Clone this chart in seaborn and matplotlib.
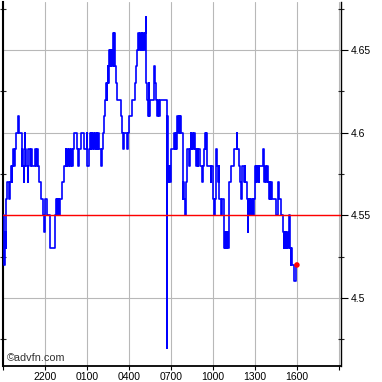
import numpy as np
import pandas as pd
import matplotlib
matplotlib.use("Agg")
import matplotlib.pyplot as plt
import seaborn as sns
from matplotlib.ticker import FixedLocator

# minutes since 19:00 (previous evening) at which the price changed
minutes = [
    0, 3, 5, 9, 12, 14, 19, 26, 29, 36, 38, 40, 42, 47, 50, 56, 64, 68, 80, 83,
    86, 89, 91, 94, 96, 100, 107, 109, 115, 118, 126, 136, 142, 144, 148, 156, 163, 171, 175, 178,
    188, 200, 221, 224, 227, 230, 233, 236, 239, 242, 246, 253, 262, 268, 272, 276, 279, 283, 286, 290,
    294, 298, 306, 316, 322, 325, 334, 348, 358, 362, 367,
    372, 376, 379, 383, 387, 390, 394, 398, 402, 405, 409, 412, 422, 425, 429, 433, 437, 441, 444, 446,
    449, 451, 453, 456, 458, 460, 462, 464, 468, 471, 474, 476, 478, 481, 486, 490, 504, 510, 514, 518,
    531, 536, 540, 552, 568, 572, 575, 578, 583, 586, 590, 594, 598, 602, 606, 610, 613, 615, 618, 621,
    624, 627, 630, 649, 652, 656, 662, 666, 669, 672, 701,
    703, 706, 710, 712, 717, 720, 734, 737, 740, 743, 748, 751, 754, 757, 760, 764, 770, 773, 775, 780,
    783, 788, 798, 801, 804, 808, 811, 815, 818, 821, 826, 830, 834, 838, 843, 854, 857, 860, 866, 869,
    872, 876, 890, 893, 902, 905, 910, 913, 918, 922, 926, 928, 934, 940, 947, 950, 953, 956, 959, 962,
    965, 968, 971,
    976, 990, 1003, 1005, 1013, 1017, 1021, 1024, 1032, 1036, 1039, 1046, 1050, 1052, 1055, 1058, 1061, 1064, 1067, 1070,
    1073, 1076, 1080, 1083, 1086, 1089, 1092, 1096, 1099, 1113, 1118, 1121, 1124, 1127, 1130, 1136, 1140, 1143, 1146, 1150,
    1153, 1170, 1179, 1184, 1190, 1200, 1203, 1206, 1209, 1212, 1215, 1218, 1221, 1225, 1229, 1233, 1236, 1240, 1248, 1257,
    1260,
]
prices = [
    4.55, 4.53, 4.52, 4.54, 4.53, 4.56, 4.57, 4.56, 4.57, 4.58, 4.57, 4.58, 4.59, 4.58, 4.59, 4.60, 4.61, 4.60, 4.58, 4.59,
    4.58, 4.57, 4.58, 4.60, 4.59, 4.58, 4.57, 4.59, 4.58, 4.59, 4.58, 4.59, 4.58, 4.59, 4.58, 4.57, 4.56, 4.55, 4.54, 4.56,
    4.55, 4.53, 4.54, 4.55, 4.56, 4.55, 4.56, 4.55, 4.56, 4.55, 4.56, 4.57, 4.58, 4.59, 4.58, 4.59, 4.58, 4.59, 4.58, 4.59,
    4.58, 4.59, 4.60, 4.59, 4.58, 4.59, 4.60, 4.59, 4.60, 4.58, 4.59,
    4.60, 4.59, 4.60, 4.59, 4.60, 4.59, 4.60, 4.59, 4.60, 4.59, 4.60, 4.59, 4.58, 4.59, 4.60, 4.61, 4.62, 4.63, 4.62, 4.63,
    4.64, 4.63, 4.64, 4.65, 4.64, 4.65, 4.64, 4.65, 4.64, 4.66, 4.64, 4.66, 4.65, 4.64, 4.63, 4.62, 4.61, 4.60, 4.59, 4.60,
    4.59, 4.60, 4.61, 4.62, 4.63, 4.64, 4.65, 4.66, 4.65, 4.66, 4.65, 4.66, 4.65, 4.66, 4.65, 4.66, 4.67, 4.63, 4.62, 4.61,
    4.63, 4.61, 4.62, 4.64, 4.63, 4.62, 4.61, 4.62, 4.61, 4.62, 4.47,
    4.61, 4.58, 4.57, 4.58, 4.57, 4.59, 4.60, 4.59, 4.60, 4.59, 4.61, 4.60, 4.61, 4.60, 4.61, 4.60, 4.56, 4.57, 4.56, 4.55,
    4.57, 4.59, 4.58, 4.59, 4.60, 4.59, 4.60, 4.59, 4.60, 4.59, 4.58, 4.59, 4.58, 4.59, 4.58, 4.57, 4.58, 4.59, 4.60, 4.59,
    4.60, 4.58, 4.57, 4.58, 4.56, 4.55, 4.56, 4.59, 4.58, 4.57, 4.58, 4.56, 4.55, 4.56, 4.53, 4.54, 4.53, 4.54, 4.53, 4.54,
    4.53, 4.55, 4.57,
    4.58, 4.59, 4.60, 4.59, 4.58, 4.57, 4.56, 4.58, 4.57, 4.58, 4.57, 4.56, 4.54, 4.56, 4.55, 4.56, 4.55, 4.56, 4.55, 4.56,
    4.55, 4.56, 4.58, 4.57, 4.58, 4.57, 4.58, 4.57, 4.58, 4.59, 4.58, 4.57, 4.58, 4.57, 4.58, 4.57, 4.56, 4.57, 4.56, 4.57,
    4.56, 4.55, 4.57, 4.56, 4.55, 4.54, 4.53, 4.54, 4.53, 4.54, 4.53, 4.54, 4.53, 4.55, 4.53, 4.52, 4.53, 4.52, 4.51, 4.52,
    4.52,
]
assert len(minutes) == len(prices)

ref_price = 4.55
last_minute = 1260
last_price = 4.52

xtick_hours = [0, 3, 6, 9, 12, 15, 18, 21, 24]
xtick_labels = ["", "2200", "0100", "0400", "0700", "1000", "1300", "1600", ""]
ytick_values = [4.5, 4.55, 4.6, 4.65]
ytick_labels = ["4.5", "4.55", "4.6", "4.65"]
yminor_values = [4.475, 4.525, 4.575, 4.625, 4.675]
watermark = "\u00a9advfn.com"

sns.set_style("white")
plt.rcParams["font.family"] = ["Liberation Sans", "DejaVu Sans"]

W = 382
fig = plt.figure(figsize=(3.82, 3.82), dpi=100)
ax = fig.add_axes([3 / W, 16 / W, 338 / W, 364 / W])

df = pd.DataFrame({"hours": np.array(minutes) / 60.0, "price": prices})
sns.lineplot(data=df, x="hours", y="price", drawstyle="steps-post", color="#0000ff",
             linewidth=1.2, estimator=None, sort=False, ax=ax, zorder=3)
ax.axhline(ref_price, color="#ff0000", linewidth=1.0, zorder=4)
sns.scatterplot(x=[last_minute / 60.0], y=[last_price], color="#ff0000", s=16,
                edgecolor="none", ax=ax, zorder=5)

ax.set_xlim(0, 24.15)
ax.set_ylim(4.4589, 4.6790)
ax.set_xlabel("")
ax.set_ylabel("")

ax.set_xticks(xtick_hours)
ax.set_xticklabels(xtick_labels)
ax.yaxis.tick_right()
ax.set_yticks(ytick_values)
ax.set_yticklabels(ytick_labels)
ax.yaxis.set_minor_locator(FixedLocator(yminor_values))

ax.grid(True, which="major", color="#b8b8b8", linewidth=0.8)
ax.set_axisbelow(True)

ax.tick_params(axis="x", which="major", bottom=True, direction="out", length=3, width=0.8,
               labelsize=7.5, pad=1.5, colors="black")
ax.tick_params(axis="y", which="major", right=True, left=False, direction="out", length=5,
               width=0.8, labelsize=7.5, pad=2, colors="black")
ax.tick_params(axis="y", which="minor", right=True, left=True, direction="inout", length=4,
               width=0.8)

ax.spines["top"].set_visible(False)
for side, lw in (("left", 1.5), ("bottom", 1.3), ("right", 1.0)):
    ax.spines[side].set_visible(True)
    ax.spines[side].set_color("black")
    ax.spines[side].set_linewidth(lw)

fig.text(7 / W, 1 - 358 / W, watermark, fontsize=7.8, color="#333333", ha="left", va="center")

fig.savefig("out.png", dpi=100)
